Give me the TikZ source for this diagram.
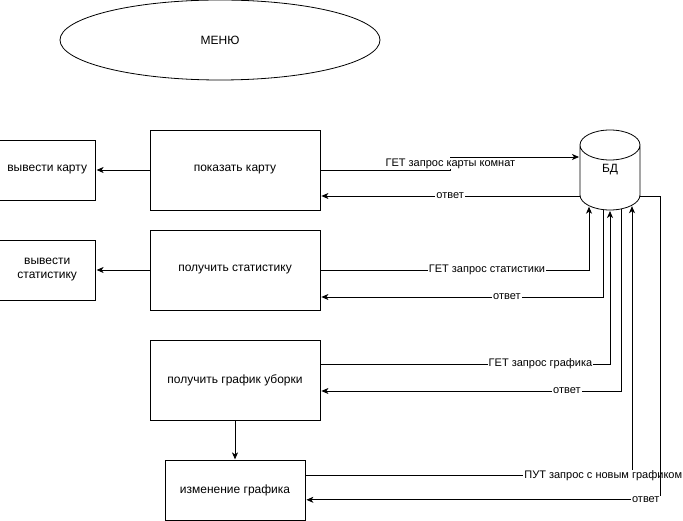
\documentclass[tikz,border=0pt]{standalone}
\usepackage{fontspec}
\setmainfont{Liberation Sans}
\usetikzlibrary{shapes.geometric,positioning,arrows.meta}

\begin{document}
\begin{tikzpicture}[->,>={Stealth[length=7pt,width=6pt,inset=2pt]},shorten >=1pt,
		thick,x=1pt,y=-1pt,
		main node/.style={rectangle,draw,minimum width=170pt,minimum height=80pt,font=\fontsize{12}{14}\selectfont,align=center},
		out node/.style={rectangle,draw,minimum width=96pt,minimum height=60pt,font=\fontsize{12}{14}\selectfont,align=center},
		msg node/.style={font=\fontsize{11}{13}\selectfont,fill=white,inner sep=1pt}]

		\useasboundingbox (0,0) rectangle (683,521);

		\node[ellipse,draw,minimum width=320pt,minimum height=80pt,font=\fontsize{12}{14}\selectfont] (menu) at (220,40) {МЕНЮ};

		\node[main node] (map) at (235,170) {показать карту};
		\node[main node] (stat) at (235,270) {получить статистику};
		\node[main node] (sched) at (235,380) {получить график уборки};
		\node[main node,minimum width=140pt,minimum height=60pt] (edit) [below=40pt of sched] {изменение графика};
		\node[out node] (showmap) [left=54pt of map] {вывести карту};
		\node[out node] (showstat) [left=54pt of stat] {вывести\\статистику};

		% БД
		\node[minimum width=60pt,minimum height=80pt,inner sep=0pt,outer sep=0pt,
			font=\fontsize{12}{14}\selectfont] (db) at (610,170) {БД};
		\draw[-,shorten >=0pt] ([yshift=-15pt]db.north west)
			arc[start angle=180,end angle=0,x radius=30pt,y radius=15pt]
			-- ([yshift=15pt]db.south east)
			arc[start angle=0,end angle=-180,x radius=30pt,y radius=15pt] -- cycle
			([yshift=-15pt]db.north west)
			arc[start angle=180,end angle=360,x radius=30pt,y radius=15pt];

		\path
		(map) edge (showmap)
		(stat) edge (showstat)
		(sched) edge (edit);

		% запросы к БД и ответы
		\draw (map.east) -- ++(130,0) |- node[msg node,pos=0.25] {ГЕТ запрос карты комнат} ([yshift=13pt]db.west);
		\draw ([yshift=-26pt]db.west) -- node[msg node] {ответ} ([yshift=-26pt]map.east);
		\draw (stat.east) -| node[msg node,pos=0.31] {ГЕТ запрос статистики} ([xshift=-21pt,yshift=4.3pt]db.south);
		\draw ([xshift=-7pt,yshift=0.4pt]db.south) |- node[msg node,pos=0.67] {ответ} ([yshift=-27pt]stat.east);
		\draw ([yshift=16pt]sched.east) -| node[msg node,pos=0.38] {ГЕТ запрос графика} (db.south);
		\draw ([xshift=11pt,yshift=1pt]db.south) |- node[msg node,pos=0.59] {ответ} ([yshift=-11pt]sched.east);
		\draw ([yshift=15pt]edit.east) -| node[msg node,pos=0.456] {ПУТ запрос с новым графиком} ([xshift=22pt,yshift=4.8pt]db.south);
		\draw ([yshift=-26pt]db.east) -- ++(20,0) |- node[msg node,pos=0.52] {ответ} ([yshift=-9pt]edit.east);
	\end{tikzpicture}
\end{document}
